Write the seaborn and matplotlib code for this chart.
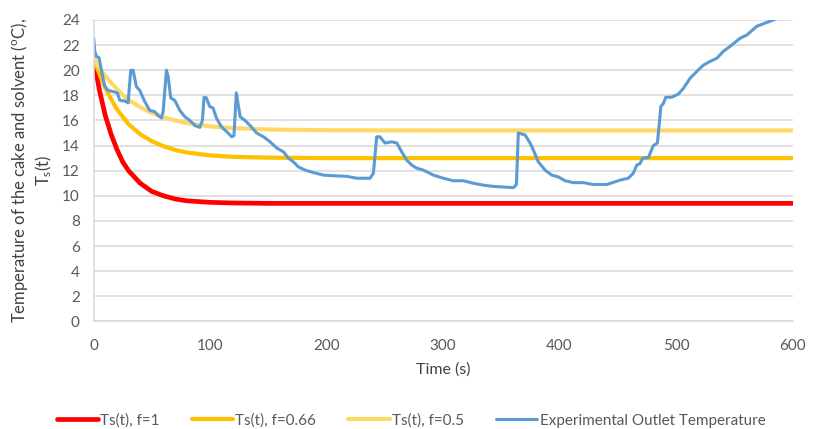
import numpy as np
import pandas as pd
import matplotlib
matplotlib.use("Agg")
import matplotlib.pyplot as plt
import seaborn as sns

# model curves (s, degC)
t_model = [0, 5, 10, 15, 20, 25, 30, 40, 50, 60, 70, 80, 100, 120, 150, 200, 300, 400, 500, 600]
ts_f1 = [21.0, 18.4, 16.4, 14.9, 13.7, 12.7, 12.0, 11.0, 10.35, 10.0, 9.75, 9.6, 9.48, 9.43, 9.4, 9.4, 9.4, 9.4, 9.4, 9.4]
ts_f066 = [21.0, 19.7, 18.6, 17.7, 16.9, 16.3, 15.7, 14.9, 14.35, 13.95, 13.65, 13.45, 13.22, 13.1, 13.04, 13.0, 13.0, 13.0, 13.0, 13.0]
ts_f05 = [21.0, 20.2, 19.55, 19.0, 18.5, 18.05, 17.65, 17.05, 16.6, 16.25, 16.0, 15.8, 15.53, 15.39, 15.28, 15.22, 15.2, 15.2, 15.2, 15.2]

# experimental outlet temperature
t_exp = [0, 1, 2.4, 4.7, 6.7, 9.6, 12.4, 16.7, 20.4, 22.5, 26.8, 29.6, 31.9, 33.9, 36.7, 39.6,
         43.9, 48.2, 52.5, 55.4, 58.2, 59.7, 62.5, 64, 66.2, 69.7, 74, 78.3, 82.6, 86.9,
         91.2, 93.4, 94.8, 96.8, 99.7, 102.5, 105.4, 109.7, 114.3, 118.6, 120.5, 122.5, 125.8,
         130, 134.3, 140, 145.8, 151.5, 157.3, 163, 167.2, 171.5, 175.8, 181.5, 188.7,
         197.3, 205.8, 217.3, 226, 237.3, 240.2, 243, 245.7, 250.2, 256, 260.3, 264.5,
         268.8, 273.1, 277.4, 283, 291.7, 300.3, 308.8, 317.4, 326, 334.6, 343.2, 351.8,
         360.4, 363, 364.6, 370.4, 374.7, 377.5, 381.8, 387.6, 393.3, 399, 404.7, 411.8,
         420.4, 429, 440.5, 452, 459, 463.4, 466.3, 469, 471.4, 476.3, 480.5, 484, 485.7,
         486.9, 489.1, 491.2, 496.3, 502, 506.3, 512, 517.8, 523.4, 529.2, 535, 540.6,
         547.8, 555, 560.7, 569.3, 575, 583.5, 590]
temp_exp = [22.6, 21.5, 21.1, 21.0, 20.0, 18.7, 18.4, 18.3, 18.2, 17.6, 17.55, 17.4, 20.0, 20.0, 18.7, 18.4,
            17.5, 16.8, 16.7, 16.4, 16.2, 16.7, 20.0, 19.5, 17.8, 17.6, 16.8, 16.3, 16.0, 15.6,
            15.45, 16.0, 17.85, 17.8, 17.1, 17.0, 16.2, 15.5, 15.1, 14.7, 14.8, 18.2, 16.3,
            16.0, 15.6, 15.0, 14.7, 14.3, 13.8, 13.5, 13.0, 12.7, 12.3, 12.05, 11.85,
            11.65, 11.6, 11.55, 11.4, 11.4, 11.8, 14.7, 14.7, 14.2, 14.3, 14.2, 13.5,
            12.85, 12.45, 12.2, 12.05, 11.65, 11.4, 11.2, 11.2, 11.0, 10.85, 10.75, 10.7,
            10.65, 10.9, 15.0, 14.85, 14.2, 13.65, 12.7, 12.05, 11.65, 11.5, 11.2, 11.05,
            11.05, 10.9, 10.9, 11.25, 11.4, 11.8, 12.45, 12.55, 13.0, 13.05, 14.0, 14.2, 15.8,
            17.1, 17.35, 17.85, 17.85, 18.1, 18.55, 19.35, 19.9, 20.4, 20.7, 20.95, 21.5,
            22.0, 22.55, 22.8, 23.5, 23.7, 24.0, 24.3]

labels = ["Ts(t), f=1", "Ts(t), f=0.66", "Ts(t), f=0.5", "Experimental Outlet Temperature"]
colors = ["#FF0000", "#FFC000", "#FFD966", "#5B9BD5"]
widths = [3.4, 3.0, 3.0, 2.2]

sns.set_style("white")
plt.rcParams["font.family"] = ["Lato", "DejaVu Sans"]
plt.rcParams["mathtext.fontset"] = "custom"
plt.rcParams["mathtext.rm"] = "Lato"
plt.rcParams["mathtext.it"] = "Lato"

fig = plt.figure(figsize=(8.14, 4.29), dpi=100)
ax = fig.add_axes([0.115, 0.2508, 0.8586, 0.7026])

series = [(t_model, ts_f1), (t_model, ts_f066), (t_model, ts_f05), (t_exp, temp_exp)]
for (tx, ty), lab, c, w in zip(series, labels, colors, widths):
    df = pd.DataFrame({"t": tx, "T": ty})
    sns.lineplot(data=df, x="t", y="T", ax=ax, color=c, linewidth=w, label=lab,
                 sort=False, estimator=None)

ax.set_xlim(0, 600)
ax.set_ylim(0, 24)
ax.set_xticks(range(0, 601, 100))
ax.set_yticks(range(0, 25, 2))
ax.grid(axis="y", color="#D9D9D9", linewidth=1.1)
ax.set_axisbelow(True)
for s in ["top", "right"]:
    ax.spines[s].set_visible(False)
for s in ["left", "bottom"]:
    ax.spines[s].set_color("#D9D9D9")
    ax.spines[s].set_linewidth(1.1)
ax.tick_params(axis="both", length=0, labelsize=11, labelcolor="#595959")
ax.tick_params(axis="x", pad=13)
ax.tick_params(axis="y", pad=10)

ax.set_xlabel("Time (s)", fontsize=11.5, color="#404040")
ax.xaxis.set_label_coords(0.5, -0.135)
ax.set_ylabel("")

# two-line y label, placed line by line
fig.text(20 / 814, 1 - 170 / 429, "Temperature of the cake and solvent ($^{\\mathrm{o}}$C),",
         rotation=90, ha="center", va="center", fontsize=12, color="#404040")
fig.text(44 / 814, 1 - 170 / 429, "T$_{\\mathrm{s}}$(t)",
         rotation=90, ha="center", va="center", fontsize=12, color="#404040")

ax.get_legend().remove()
h, l = ax.get_legend_handles_labels()
fig.legend(h, l, loc="center", bbox_to_anchor=(0.505, 0.02), ncol=4, frameon=False,
           fontsize=11, handlelength=2.7, handletextpad=0.15, columnspacing=2.1,
           labelcolor="#595959")

fig.savefig("out.png", dpi=100)
